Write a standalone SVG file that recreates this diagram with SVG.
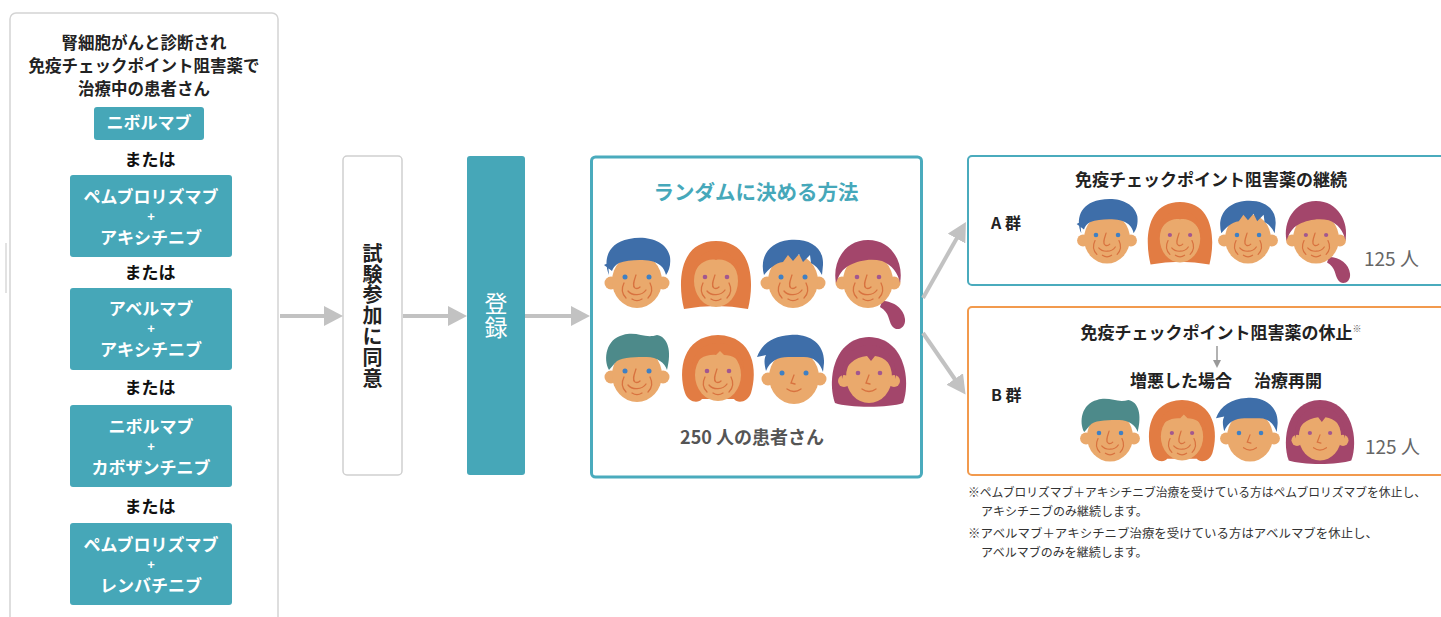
<svg xmlns="http://www.w3.org/2000/svg" xmlns:xlink="http://www.w3.org/1999/xlink" width="1441" height="617" viewBox="0 0 1441 617">
  <style>
    text { font-family: "Noto Sans CJK JP", "Noto Sans", sans-serif; }
    .ttl { font-size: 16.5px; font-weight: bold; fill: #222; text-anchor: middle; }
    .drug { font-size: 17px; font-weight: bold; fill: #fff; text-anchor: middle; }
    .plus { font-family: "Liberation Sans", Arial, sans-serif; font-size: 13px; }
    .or { font-size: 17px; font-weight: bold; fill: #111; text-anchor: middle; }
    .vert { font-size: 20px; font-weight: bold; fill: #222; text-anchor: middle; writing-mode: vertical-rl; letter-spacing: 0.8px; }
    .reg { font-size: 23px; fill: #fff; text-anchor: middle; writing-mode: vertical-rl; letter-spacing: 1px; }
    .head { font-size: 17px; font-weight: bold; fill: #222; text-anchor: middle; }
    .grp { font-size: 16px; font-weight: bold; fill: #222; }
    .count { font-size: 19px; fill: #666; }
    .note { font-size: 12px; fill: #333; }
    .teal { fill: #46a7b8; }
    .pnl { fill: #fff; stroke: #d4d4d4; stroke-width: 1.5; }
    .skin { fill: #eaa96c; }
    .line { fill: none; stroke: #d8723f; stroke-width: 1.3; stroke-linecap: round; }
    .eye-m { fill: #3f80c4; }
    .eye-f { fill: #a2578f; }
    .h-blue { fill: #3e6ea9; }
    .h-orange { fill: #e27c43; }
    .h-plum { fill: #a3466b; }
    .h-green { fill: #4d8a8a; }
    .conn { stroke: #c2c2c2; stroke-width: 4; fill: none; }
  </style>
  <defs>
    <marker id="head" markerUnits="userSpaceOnUse" markerWidth="20" markerHeight="20" refX="11" refY="10" orient="auto">
      <path d="M0,0 L19,10 L0,20 Z" fill="#c2c2c2"/>
    </marker>
    <marker id="head-small" markerUnits="userSpaceOnUse" markerWidth="10" markerHeight="10" refX="4" refY="4" orient="auto">
      <path d="M0,0 L8,4 L0,8 Z" fill="#999"/>
    </marker>

    <!-- shared face parts -->
    <g id="base-m">
      <circle class="skin" cx="-26" cy="6" r="6.5"/>
      <circle class="skin" cx="26" cy="6" r="6.5"/>
      <ellipse class="skin" cx="0" cy="4" rx="25" ry="27"/>
    </g>
    <g id="old-lines">
      <path class="line" d="M-1,-2 C-3,4 -5,9 -2,11 C0,12 2,11 3,10"/>
      <path class="line" d="M-9,14 C-5,19 5,19 9,13"/>
      <path class="line" d="M-13,6 C-16,12 -15,17 -11,21"/>
      <path class="line" d="M13,6 C16,12 15,17 11,21"/>
      <path class="line" d="M-5,22 C-2,24 2,24 5,22"/>
    </g>
    <g id="young-lines">
      <path class="line" d="M0,2 L-3,10 L1,11"/>
      <path class="line" d="M-7,16 Q0,21 7,16"/>
    </g>
    <g id="eyes-m">
      <circle class="eye-m" cx="-12" cy="0" r="2.5"/>
      <circle class="eye-m" cx="12" cy="0" r="2.5"/>
    </g>
    <g id="eyes-f">
      <circle class="eye-f" cx="-11" cy="0" r="2.3"/>
      <circle class="eye-f" cx="11" cy="0" r="2.3"/>
    </g>

    <!-- 1: older man, blue hair -->
    <g id="face-1">
      <use href="#base-m"/>
      <use href="#eyes-m"/>
      <use href="#old-lines"/>
      <path class="h-blue" d="M-28,-2 C-34,-16 -30,-34 -8,-38 C10,-42 30,-36 33,-20 C34,-12 32,-6 29,-2 C27,-10 22,-14 14,-16 C4,-18 -10,-17 -18,-14 C-22,-12 -24,-9 -25,-6 L-33,-12 L-29,-14 Z"/>
    </g>
    <!-- 2: older woman, long orange hair -->
    <g id="face-2">
      <path class="h-orange" d="M-32,32 C-39,4 -36,-36 0,-36 C36,-36 39,4 32,32 Q0,26 -32,32 Z"/>
      <ellipse class="skin" cx="0" cy="4" rx="22" ry="26"/>
      <use href="#eyes-f"/>
      <use href="#old-lines"/>
      <path class="h-orange" d="M-23,-2 C-22,-20 -10,-27 0,-27 C10,-27 22,-20 23,-2 C18,-14 8,-19 0,-17 C-8,-19 -18,-14 -23,-2 Z"/>
    </g>
    <!-- 3: older man, spiky blue hair -->
    <g id="face-3">
      <use href="#base-m"/>
      <use href="#eyes-m"/>
      <use href="#old-lines"/>
      <path class="h-blue" d="M-29,-2 C-33,-16 -28,-34 -4,-37 C16,-39 31,-30 30,-12 L29,-2 C26,-8 22,-12 18,-14 L17,-22 L10,-15 L6,-23 L0,-16 L-5,-22 L-10,-15 C-18,-14 -24,-8 -29,-2 Z"/>
    </g>
    <!-- 4: older woman, plum hair with ponytail -->
    <g id="face-4">
      <path class="h-plum" d="M14,24 C26,24 36,32 37,42 C38,52 28,55 24,49 C20,43 22,36 12,30 Z"/>
      <use href="#base-m"/>
      <use href="#eyes-f"/>
      <use href="#old-lines"/>
      <path class="h-plum" d="M-32,6 C-36,-14 -24,-37 0,-37 C24,-37 36,-14 32,6 C30,-4 24,-12 14,-16 C2,-19 -10,-16 -18,-12 C-26,-8 -29,-2 -32,6 Z"/>
    </g>
    <!-- 5: older man, green-grey hair -->
    <g id="face-5">
      <use href="#base-m"/>
      <use href="#eyes-m"/>
      <use href="#old-lines"/>
      <path class="h-green" d="M-28,-1 C-34,-12 -31,-32 -14,-36 C0,-40 8,-32 20,-36 C31,-34 35,-20 30,-1 C28,-8 20,-14 10,-14 C0,-14 -14,-14 -20,-10 C-24,-6 -26,-3 -28,-1 Z"/>
    </g>
    <!-- 6: older woman, short curly orange hair -->
    <g id="face-6">
      <path class="h-orange" d="M-33,22 C-40,0 -36,-35 0,-36 C36,-35 40,0 33,22 C30,31 20,33 16,28 L-16,28 C-20,33 -30,31 -33,22 Z"/>
      <ellipse class="skin" cx="0" cy="4" rx="23" ry="26"/>
      <use href="#eyes-f"/>
      <use href="#old-lines"/>
      <path class="h-orange" d="M-26,-2 C-26,-20 -12,-28 0,-28 C12,-28 26,-20 26,-2 C22,-12 14,-16 6,-16 L2,-20 L-2,-16 C-12,-17 -22,-12 -26,-2 Z"/>
    </g>
    <!-- 7: young man, blue hair -->
    <g id="face-7">
      <use href="#base-m"/>
      <use href="#eyes-m"/>
      <use href="#young-lines"/>
      <path class="h-blue" d="M-28,-2 C-30,-10 -30,-14 -28,-18 L-37,-16 C-32,-30 -20,-37 -4,-38 C14,-40 31,-30 30,-10 L29,-1 C26,-10 20,-16 10,-16 L-6,-16 C-16,-16 -24,-12 -28,-2 Z"/>
    </g>
    <!-- 8: young woman, plum bob -->
    <g id="face-8">
      <path class="h-plum" d="M-34,30 C-42,8 -36,-35 0,-36 C36,-35 42,8 34,30 C20,35 -20,35 -34,30 Z"/>
      <ellipse class="skin" cx="0" cy="4" rx="23" ry="26"/>
      <circle class="skin" cx="-25" cy="8" r="6"/>
      <circle class="skin" cx="25" cy="8" r="6"/>
      <use href="#eyes-f"/>
      <use href="#young-lines"/>
      <path class="h-plum" d="M-27,6 C-28,-18 -14,-28 0,-28 C14,-28 28,-18 27,6 C24,-8 16,-16 6,-17 L2,-12 L-2,-17 C-14,-16 -24,-8 -27,6 Z"/>
    </g>
  </defs>

  <rect width="1441" height="617" fill="#fff"/>
  <line x1="6" y1="243" x2="6" y2="293" stroke="#d8d8d8" stroke-width="1.5"/>

  <!-- eligible patients and their treatments -->
  <g id="patients">
    <rect class="pnl" x="10" y="13" width="268" height="640" rx="6"/>
    <text class="ttl" x="144" y="49">腎細胞がんと診断され</text>
    <text class="ttl" x="144" y="72">免疫チェックポイント阻害薬で</text>
    <text class="ttl" x="144" y="95">治療中の患者さん</text>
  </g>
  <g id="drug-1">
    <rect class="teal" x="94" y="107" width="110" height="33" rx="3"/>
    <text class="drug" x="149" y="129">ニボルマブ</text>
  </g>
  <text class="or" x="150" y="166">または</text>
  <g id="drug-2">
    <rect class="teal" x="70" y="175" width="162" height="82" rx="3"/>
    <text class="drug" x="151" y="203">ペムブロリズマブ</text>
    <text class="drug plus" x="151" y="221">+</text>
    <text class="drug" x="151" y="244">アキシチニブ</text>
  </g>
  <text class="or" x="150" y="279">または</text>
  <g id="drug-3">
    <rect class="teal" x="70" y="288" width="162" height="82" rx="3"/>
    <text class="drug" x="151" y="315">アベルマブ</text>
    <text class="drug plus" x="151" y="333">+</text>
    <text class="drug" x="151" y="356">アキシチニブ</text>
  </g>
  <text class="or" x="150" y="394">または</text>
  <g id="drug-4">
    <rect class="teal" x="70" y="405" width="162" height="82" rx="3"/>
    <text class="drug" x="151" y="433">ニボルマブ</text>
    <text class="drug plus" x="151" y="451">+</text>
    <text class="drug" x="151" y="474">カボザンチニブ</text>
  </g>
  <text class="or" x="150" y="513">または</text>
  <g id="drug-5">
    <rect class="teal" x="70" y="523" width="162" height="82" rx="3"/>
    <text class="drug" x="151" y="551">ペムブロリズマブ</text>
    <text class="drug plus" x="151" y="569">+</text>
    <text class="drug" x="151" y="592">レンバチニブ</text>
  </g>

  <!-- consent -->
  <g id="consent">
    <rect x="343" y="156" width="59" height="319" rx="4" fill="#fff" stroke="#cfcfcf" stroke-width="1.5"/>
    <text class="vert" x="372.5" y="316">試験参加に同意</text>
  </g>

  <!-- registration -->
  <g id="register">
    <rect class="teal" x="467" y="156" width="58" height="319" rx="3"/>
    <text class="reg" x="496" y="316">登録</text>
  </g>

  <!-- randomisation -->
  <g id="random">
    <rect x="591.5" y="157" width="330" height="320" rx="4" fill="#fff" stroke="#4aabbd" stroke-width="3"/>
    <text x="756" y="200" font-size="20.5" font-weight="bold" fill="#46a8ba" text-anchor="middle">ランダムに決める方法</text>
    <use href="#face-1" transform="translate(637,277)"/>
    <use href="#face-2" transform="translate(716,277)"/>
    <use href="#face-3" transform="translate(793,277)"/>
    <use href="#face-4" transform="translate(868,277)"/>
    <use href="#face-5" transform="translate(637,371)"/>
    <use href="#face-6" transform="translate(718,371)"/>
    <use href="#face-7" transform="translate(794,373)"/>
    <use href="#face-8" transform="translate(869,373)"/>
    <text x="752" y="444" font-size="18" font-weight="bold" fill="#555" text-anchor="middle">250 人の患者さん</text>
  </g>

  <!-- arm A -->
  <g id="arm-a">
    <rect x="968" y="156" width="500" height="129" rx="4" fill="#fff" stroke="#4aabbd" stroke-width="2"/>
    <text class="head" x="1211" y="186">免疫チェックポイント阻害薬の継続</text>
    <text class="grp" x="991" y="229">A 群</text>
    <use href="#face-1" transform="translate(1107,235) scale(0.92)"/>
    <use href="#face-2" transform="translate(1180,235) scale(0.92)"/>
    <use href="#face-3" transform="translate(1248,235) scale(0.92)"/>
    <use href="#face-4" transform="translate(1316,235) scale(0.92)"/>
    <text class="count" x="1364" y="266">125 人</text>
  </g>

  <!-- arm B -->
  <g id="arm-b">
    <rect x="968" y="307" width="500" height="168" rx="4" fill="#fff" stroke="#f29a4d" stroke-width="2"/>
    <text class="head" x="1221" y="339">免疫チェックポイント阻害薬の休止<tspan font-size="9" dy="-7" fill="#555">※</tspan></text>
    <line x1="1217" y1="346" x2="1217" y2="364" stroke="#999" stroke-width="1.5" marker-end="url(#head-small)"/>
    <text class="head" x="1181" y="387">増悪した場合</text>
    <text class="head" x="1288" y="387">治療再開</text>
    <text class="grp" x="991" y="401">B 群</text>
    <use href="#face-5" transform="translate(1110,433) scale(0.92)"/>
    <use href="#face-6" transform="translate(1182,433) scale(0.92)"/>
    <use href="#face-7" transform="translate(1250,433) scale(0.92)"/>
    <use href="#face-8" transform="translate(1320,433) scale(0.92)"/>
    <text class="count" x="1365" y="454">125 人</text>
  </g>

  <!-- connectors -->
  <g id="connectors">
    <line class="conn" x1="280" y1="316" x2="335" y2="316" marker-end="url(#head)"/>
    <line class="conn" x1="403" y1="316" x2="459" y2="316" marker-end="url(#head)"/>
    <line class="conn" x1="525" y1="316" x2="582" y2="316" marker-end="url(#head)"/>
    <line class="conn" x1="923" y1="298" x2="962" y2="229" marker-end="url(#head)"/>
    <line class="conn" x1="923" y1="333" x2="961" y2="388" marker-end="url(#head)"/>
  </g>

  <!-- footnotes -->
  <g id="notes">
    <text class="note" x="968" y="497" textLength="458" lengthAdjust="spacingAndGlyphs">※ペムブロリズマブ＋アキシチニブ治療を受けている方はペムブロリズマブを休止し、</text>
    <text class="note" x="981" y="516">アキシチニブのみ継続します。</text>
    <text class="note" x="968" y="538" textLength="410" lengthAdjust="spacingAndGlyphs">※アベルマブ＋アキシチニブ治療を受けている方はアベルマブを休止し、</text>
    <text class="note" x="981" y="557">アベルマブのみを継続します。</text>
  </g>
</svg>
